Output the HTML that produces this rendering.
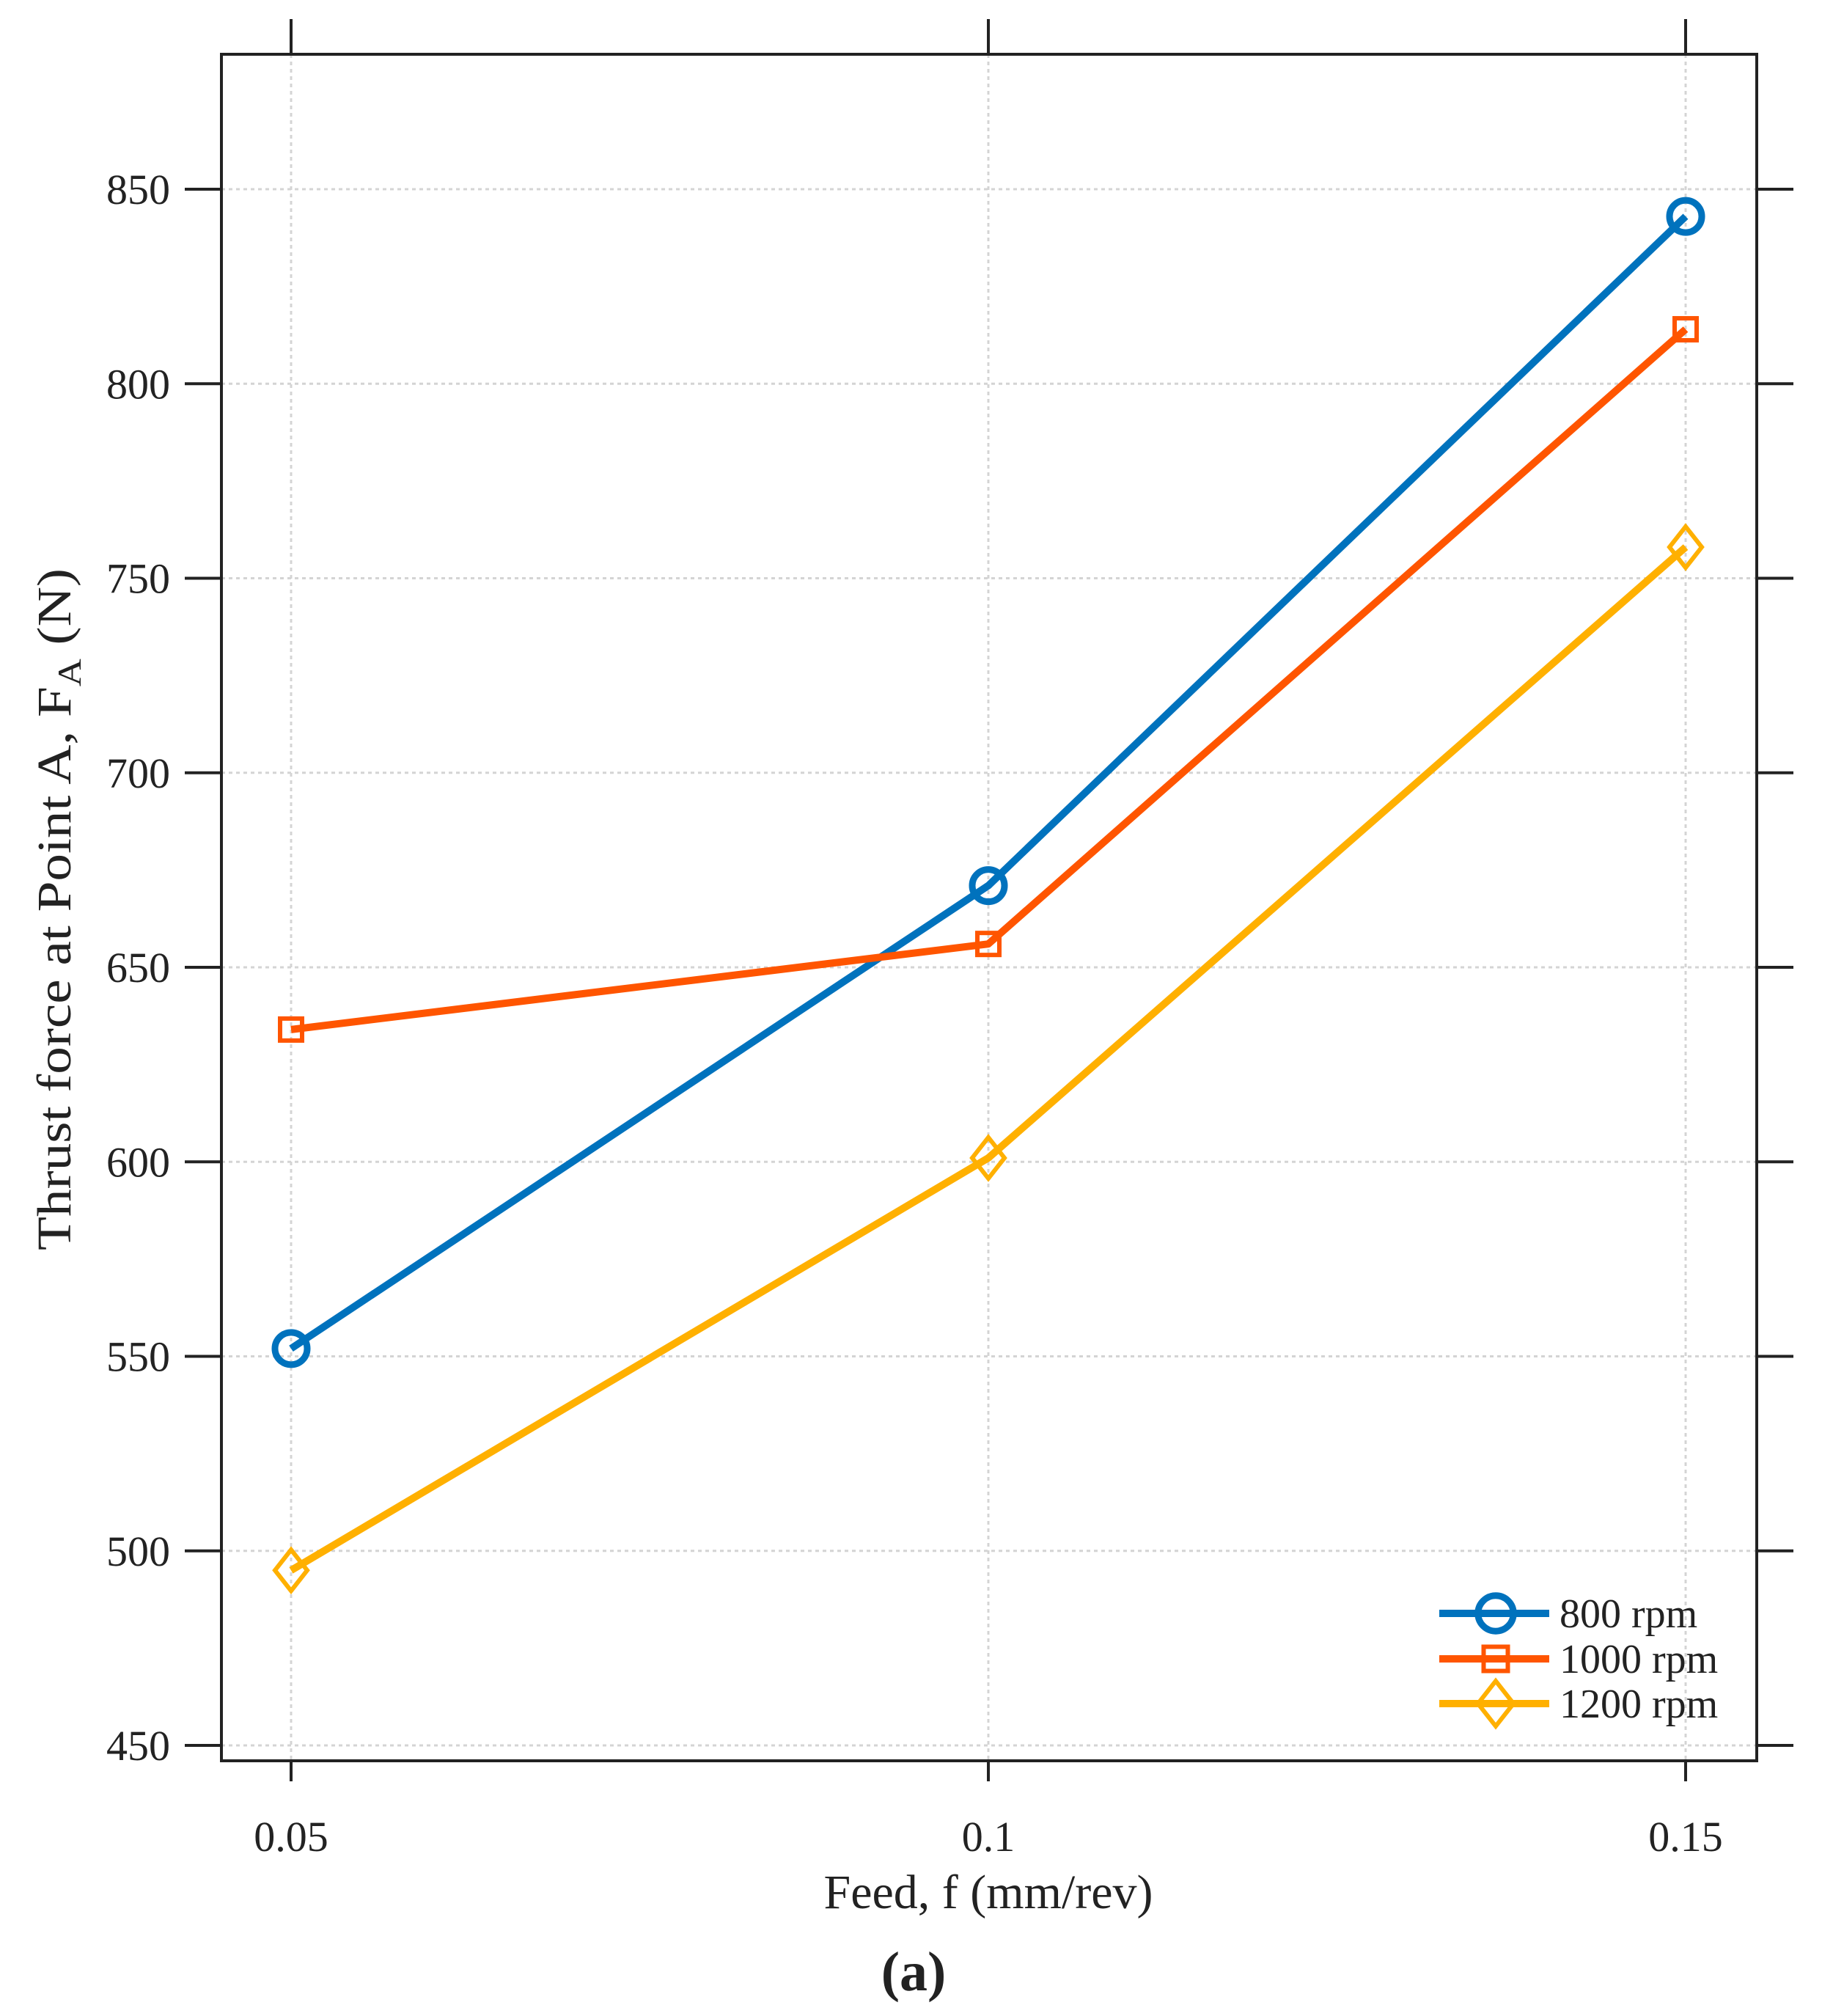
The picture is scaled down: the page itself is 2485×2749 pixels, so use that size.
<!DOCTYPE html>
<html><head><meta charset="utf-8"><style>
html,body{margin:0;padding:0;background:#fff}
svg{display:block}
text{font-family:"Liberation Serif",serif;fill:#222}
</style></head><body>
<svg id="chart" width="2485" height="2749" viewBox="0 0 2485 2749" xmlns="http://www.w3.org/2000/svg">
<g id="grid"></g>
<g id="axes"></g>
<g id="series"></g>
<g id="legend"></g>
<text x="1348" y="2602" font-size="66" text-anchor="middle">Feed, f (mm/rev)</text>
<text transform="translate(96,1240) rotate(-90)" font-size="66" text-anchor="middle" textLength="930" lengthAdjust="spacingAndGlyphs">Thrust  force  at  Point  A,  F<tspan font-size="46" dy="14">A</tspan><tspan dy="-14"> (N)</tspan></text>
<text x="1246" y="2714" font-size="76" font-weight="bold" text-anchor="middle">(a)</text>
</svg>
<script>
const categories = [0.05, 0.1, 0.15];
const xTickLabels = ["0.05", "0.1", "0.15"];
const yTicks = [450, 500, 550, 600, 650, 700, 750, 800, 850];
const seriesNames = ["800 rpm", "1000 rpm", "1200 rpm"];
const s800 = [552, 671, 843];
const s1000 = [634, 656, 814];
const s1200 = [495, 601, 758];

const NS = "http://www.w3.org/2000/svg";
const L = 302, R = 2396, T = 74, B = 2401;
const xPix0 = 397, xPix1 = 2299;
const yPix450 = 2380, yPix850 = 258;
function xs(v){ return xPix0 + (v - 0.05) / 0.1 * (xPix1 - xPix0); }
function ys(v){ return yPix450 + (v - 450) / 400 * (yPix850 - yPix450); }
function mk(tag, attrs, parent){
  const e = document.createElementNS(NS, tag);
  for (const k in attrs) e.setAttribute(k, attrs[k]);
  parent.appendChild(e);
  return e;
}
const grid = document.getElementById('grid');
const axes = document.getElementById('axes');
const ser = document.getElementById('series');
const leg = document.getElementById('legend');

yTicks.forEach(v => {
  const y = ys(v);
  const g = mk('line', {x1:L, x2:R, y1:y, y2:y, stroke:'#d4d4d4', 'stroke-width':3, 'stroke-dasharray':'5 5'}, grid);
  
  
  const t1 = mk('line', {x1:L-50, x2:L, y1:y, y2:y, stroke:'#222', 'stroke-width':4}, axes);
  
  
  const t2 = mk('line', {x1:R, x2:R+50, y1:y, y2:y, stroke:'#222', 'stroke-width':4}, axes);
  
  
  const lb = mk('text', {x:232, y:y+20, 'font-size':58, 'text-anchor':'end'}, axes);
  lb.textContent = String(v);
  
  
});
categories.forEach((c, i) => {
  const x = xs(c);
  const g = mk('line', {x1:x, x2:x, y1:T, y2:B, stroke:'#d4d4d4', 'stroke-width':3, 'stroke-dasharray':'5 5'}, grid);
  
  
  const t1 = mk('line', {x1:x, x2:x, y1:T-48, y2:T, stroke:'#222', 'stroke-width':4}, axes);
  
  
  const t2 = mk('line', {x1:x, x2:x, y1:B, y2:B+28, stroke:'#222', 'stroke-width':4}, axes);
  
  
  const lb = mk('text', {x:x, y:2524, 'font-size':58, 'text-anchor':'middle'}, axes);
  lb.textContent = xTickLabels[i];
  
  
});
const frame = mk('rect', {x:L, y:T, width:R-L, height:B-T, fill:'none', stroke:'#222', 'stroke-width':4}, axes);



function marker(type, x, y, color, scale, parent){
  let e;
  if (type === 'circle') e = mk('circle', {cx:x, cy:y, r:22*scale, fill:'none', stroke:color, 'stroke-width':9}, parent);
  else if (type === 'square') { const h = 15*scale; e = mk('rect', {x:x-h, y:y-h, width:2*h, height:2*h, fill:'none', stroke:color, 'stroke-width':6}, parent); }
  else { const h = 28*scale, w = 22*scale; e = mk('polygon', {points:`${x},${y-h} ${x+w},${y} ${x},${y+h} ${x-w},${y}`, fill:'none', stroke:color, 'stroke-width':6}, parent); }
  return e;
}
const all = [s800, s1000, s1200];
const colors = ['#0072BD', '#FF5500', '#FFB000'];
const types = ['circle', 'square', 'diamond'];
all.forEach((vals, si) => {
  const pts = vals.map((v, i) => xs(categories[i]) + ',' + ys(v)).join(' ');
  const pl = mk('polyline', {points:pts, fill:'none', stroke:colors[si], 'stroke-width':10, 'stroke-linejoin':'round'}, ser);
  
  
  vals.forEach((v, i) => {
    const m = marker(types[si], xs(categories[i]), ys(v), colors[si], 1, ser);
    
    
  });
});
const legY = [2200, 2262, 2323];
seriesNames.forEach((n, i) => {
  const y = legY[i];
  const l = mk('line', {x1:1963, x2:2113, y1:y, y2:y, stroke:colors[i], 'stroke-width':10}, leg);
  
  
  const m = marker(types[i], 2040, y, colors[i], 1.1, leg);
  
  
  const t = mk('text', {x:2127, y:y+19, 'font-size':56}, leg);
  t.textContent = n;
  
  
});
</script>
</body></html>
